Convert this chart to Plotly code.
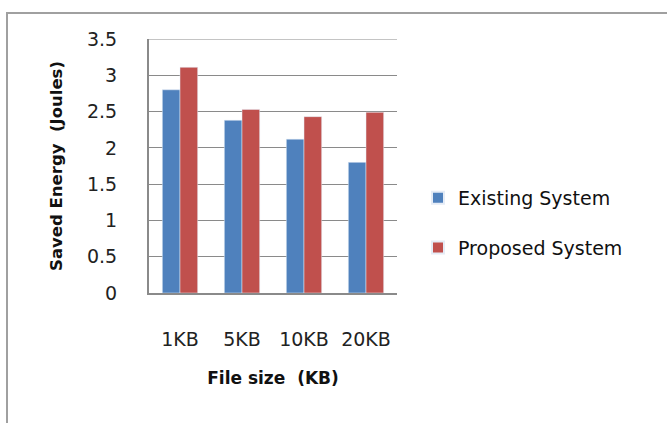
import plotly.graph_objects as go

categories = ["1KB", "5KB", "10KB", "20KB"]
existing = [2.80, 2.38, 2.12, 1.80]
proposed = [3.11, 2.53, 2.43, 2.49]
y_ticks = [0, 0.5, 1, 1.5, 2, 2.5, 3, 3.5]
y_tick_labels = ["0", "0.5", "1", "1.5", "2", "2.5", "3", "3.5"]

W, H = 667, 423
L, R, T, B = 149, 270, 39, 130
pw, ph = W - L - R, H - T - B

font = "'DejaVu Sans', sans-serif"

fig = go.Figure()
fig.add_trace(go.Bar(x=categories, y=existing, name="Existing System",
                     marker_color="#4F81BD", legendgroup="a"))
fig.add_trace(go.Bar(x=categories, y=proposed, name="Proposed System",
                     marker_color="#C0504D", legendgroup="b"))

def px_x(p):
    return (p - L) / pw

def px_y(p):
    return 1 - (p - T) / ph

fig.update_layout(
    width=W, height=H, autosize=False,
    margin=dict(l=L, r=R, t=T, b=B, pad=0),
    paper_bgcolor="white", plot_bgcolor="white",
    bargap=0.43, bargroupgap=0,
    font=dict(family=font, size=19, color="#222"),
    legend=dict(x=px_x(418), y=px_y(179), xanchor="left", yanchor="top",
                font=dict(size=19, color="#111"), tracegroupgap=22,
                itemsizing="constant", itemwidth=30, bgcolor="rgba(0,0,0,0)"),
    xaxis=dict(showgrid=False, showline=True, linecolor="#8a8a8a", linewidth=2,
               ticks="", ticklabelstandoff=28,
               title=dict(text="File size\u00a0 (KB)", standoff=23,
                          font=dict(size=17, color="#111", weight="bold")),
               tickfont=dict(size=19, color="#222")),
    yaxis=dict(range=[0, 3.5], tickvals=y_ticks, ticktext=y_tick_labels,
               showgrid=True, gridcolor="#8a8a8a", gridwidth=1,
               showline=True, linecolor="#8a8a8a", linewidth=2,
               ticks="", ticklabelstandoff=26, zeroline=False,
               title=dict(text="Saved Energy\u00a0 (Joules)", standoff=20,
                          font=dict(size=16.5, color="#111", weight="bold")),
               tickfont=dict(size=19, color="#222")),
    showlegend=True,
)

fig.add_shape(type="line", xref="paper", yref="y", x0=0, x1=1,
              y0=y_ticks[-1], y1=y_ticks[-1],
              line=dict(color="#8a8a8a", width=1), layer="below")

fig.add_shape(type="rect", xref="paper", yref="paper",
              x0=px_x(7), x1=px_x(700), y0=px_y(13), y1=px_y(450),
              line=dict(color="#a0a0a0", width=2), fillcolor="rgba(0,0,0,0)",
              layer="below")

fig.write_html("out.html")
